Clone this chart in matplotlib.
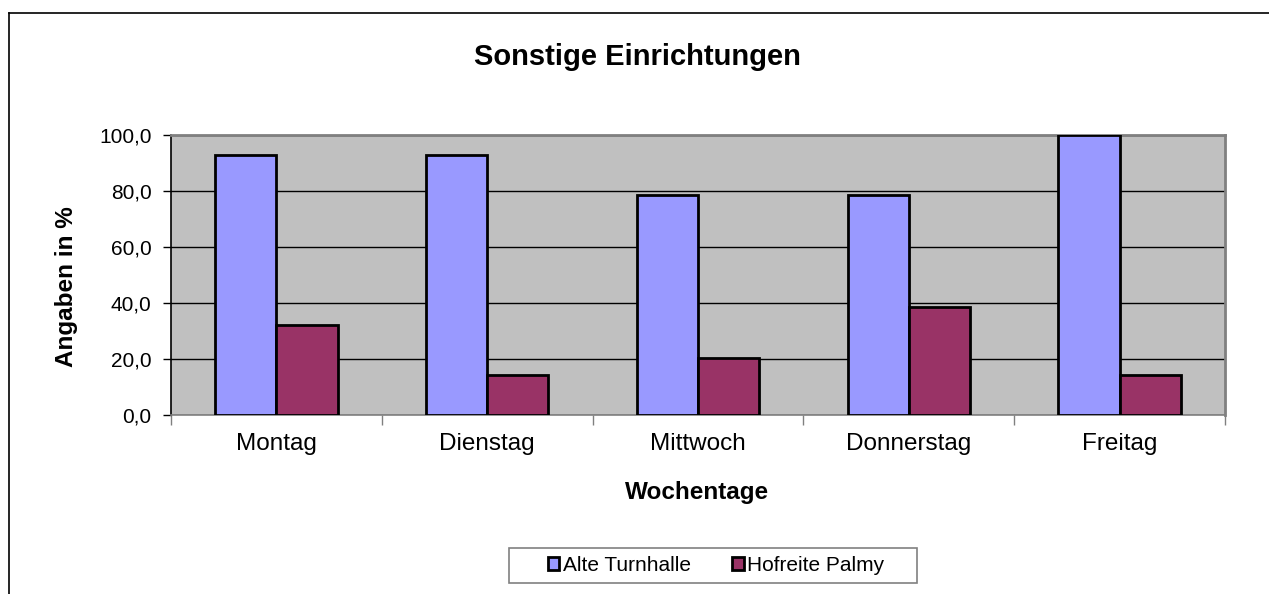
import matplotlib
matplotlib.use("Agg")
import matplotlib.pyplot as plt
import numpy as np
from matplotlib.lines import Line2D
from matplotlib.patches import Rectangle

plt.rcParams['font.family'] = ['Liberation Sans', 'DejaVu Sans']

categories = ["Montag", "Dienstag", "Mittwoch", "Donnerstag", "Freitag"]
alte_turnhalle = [92.9, 92.9, 78.6, 78.6, 100.0]
hofreite_palmy = [32.1, 14.3, 20.5, 38.5, 14.3]
series_names = ["Alte Turnhalle", "Hofreite Palmy"]
yticks = [0, 20, 40, 60, 80, 100]

W, H = 1269, 594
fig = plt.figure(figsize=(W / 100, H / 100), dpi=100)
fig.patch.set_facecolor('white')

# outer frame lines (top and left)
fig.add_artist(Line2D([9 / W, 1.0], [1 - 13 / H, 1 - 13 / H], color='black', lw=1.2))
fig.add_artist(Line2D([9 / W, 9 / W], [0, 1 - 13 / H], color='black', lw=1.2))

l, r, t, b = 171, 1225, 135, 415
ax = fig.add_axes([l / W, 1 - b / H, (r - l) / W, (b - t) / H])
ax.set_facecolor('#C0C0C0')

x = np.arange(len(categories))
bw = 0.29
ax.bar(x - bw / 2, alte_turnhalle, bw, color='#9999FF', edgecolor='black', linewidth=2.0, zorder=3, label=series_names[0])
ax.bar(x + bw / 2, hofreite_palmy, bw, color='#993366', edgecolor='black', linewidth=2.0, zorder=3, label=series_names[1])

ax.set_xlim(-0.5, len(categories) - 0.5)
ax.set_ylim(0, 100)
ax.set_yticks(yticks)
ax.set_yticklabels([f"{v:.1f}".replace('.', ',') for v in yticks], fontsize=15)
ax.yaxis.grid(True, color='black', linewidth=1.0, zorder=1)
ax.set_axisbelow(True)

ax.set_xticks(x)
ax.set_xticklabels(categories, fontsize=17.5)
ax.tick_params(axis='x', length=0, pad=13)
ax.set_xticks(np.arange(-0.5, len(categories)), minor=True)
ax.tick_params(axis='x', which='minor', length=7, color='#808080', width=1)
ax.tick_params(axis='y', length=6, width=1, color='black', pad=8)

for s in ['top', 'right']:
    ax.spines[s].set_color('#808080')
    ax.spines[s].set_linewidth(2)
ax.spines['left'].set_color('black')
ax.spines['left'].set_linewidth(1.2)
ax.spines['bottom'].set_color('#808080')
ax.spines['bottom'].set_linewidth(1.2)

fig.text(637 / W, 1 - 57 / H, "Sonstige Einrichtungen", ha='center', va='center',
         fontsize=21, fontweight='bold')
fig.text(67 / W, 1 - 287 / H, "Angaben in %", ha='center', va='center', rotation=90,
         fontsize=17.5, fontweight='bold')
fig.text(697 / W, 1 - 492 / H, "Wochentage", ha='center', va='center',
         fontsize=17.5, fontweight='bold')

# legend frame
lx0, lx1, ly0, ly1 = 509, 917, 548, 583
fig.add_artist(Rectangle((lx0 / W, 1 - ly1 / H), (lx1 - lx0) / W, (ly1 - ly0) / H,
                         transform=fig.transFigure, facecolor='white', edgecolor='#808080', lw=1.2))
handles, labels = ax.get_legend_handles_labels()
leg = fig.legend(handles, labels, loc='center', bbox_to_anchor=((lx0 + lx1) / 2 / W + 3 / W, 1 - (ly0 + ly1) / 2 / H),
                 ncol=2, fontsize=15, frameon=False,
                 handlelength=0.55, handleheight=0.55, handletextpad=0.15, columnspacing=2.0)

fig.savefig("out.png", dpi=100, facecolor='white')
